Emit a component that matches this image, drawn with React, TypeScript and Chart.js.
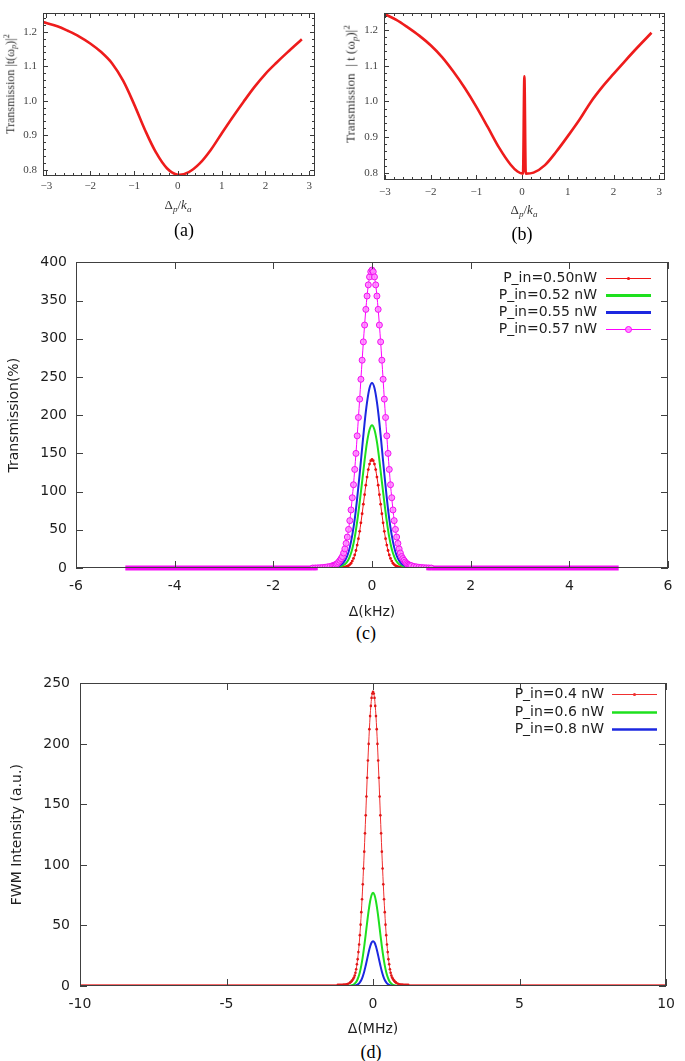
import React, { useEffect, useRef } from 'react';
import { Chart, registerables } from 'chart.js';
Chart.register(...registerables);

// ---------- Panel (a) ----------
const A_X = [-3.08, -2.75, -2.5, -2.25, -2, -1.75, -1.5, -1.25, -1, -0.75, -0.5, -0.25, 0, 0.25, 0.5, 0.75, 1, 1.25, 1.5, 1.75, 2, 2.25, 2.5, 2.83];
const A_T = [1.228, 1.216, 1.202, 1.186, 1.166, 1.141, 1.108, 1.058, 0.99, 0.915, 0.85, 0.804, 0.785, 0.793, 0.818, 0.857, 0.905, 0.952, 0.997, 1.04, 1.078, 1.11, 1.14, 1.178];

// ---------- Panel (b) ----------
const B_X = [-3.02, -2.75, -2.5, -2.25, -2, -1.75, -1.5, -1.25, -1, -0.75, -0.5, -0.25, -0.1, 0.02, 0.05, 0.08, 0.25, 0.5, 0.75, 1, 1.25, 1.5, 1.75, 2, 2.25, 2.5, 2.83];
const B_T = [1.245, 1.228, 1.207, 1.184, 1.157, 1.124, 1.083, 1.037, 0.985, 0.928, 0.87, 0.823, 0.804, 0.798, 1.07, 0.798, 0.801, 0.822, 0.86, 0.903, 0.948, 0.998, 1.04, 1.077, 1.113, 1.148, 1.192];

// ---------- Panel (c) : Δ (kHz) ----------
const C_LABELS = ['P_in=0.50nW', 'P_in=0.52 nW', 'P_in=0.55 nW', 'P_in=0.57 nW'];
// coarse grid (line-only curves)
const C_X = [-5, -1.2, -1.15, -1.1, -1.05, -1, -0.95, -0.9, -0.85, -0.8, -0.75, -0.7, -0.65, -0.6, -0.55, -0.5, -0.45, -0.4, -0.35, -0.3, -0.25, -0.2, -0.15, -0.1, -0.05, 0, 0.05, 0.1, 0.15, 0.2, 0.25, 0.3, 0.35, 0.4, 0.45, 0.5, 0.55, 0.6, 0.65, 0.7, 0.75, 0.8, 0.85, 0.9, 0.95, 1, 1.05, 1.1, 1.15, 1.2, 5];
// fine grid (curves drawn with point markers)
const C_XF = [-5, -1.2, -1.15, -1.1, -1.05, -1, -0.95, -0.9, -0.85, -0.8, -0.775, -0.75, -0.725, -0.7, -0.675, -0.65, -0.625, -0.6, -0.575, -0.55, -0.525, -0.5, -0.475, -0.45, -0.425, -0.4, -0.375, -0.35, -0.325, -0.3, -0.275, -0.25, -0.225, -0.2, -0.175, -0.15, -0.125, -0.1, -0.075, -0.05, -0.025, 0, 0.025, 0.05, 0.075, 0.1, 0.125, 0.15, 0.175, 0.2, 0.225, 0.25, 0.275, 0.3, 0.325, 0.35, 0.375, 0.4, 0.425, 0.45, 0.475, 0.5, 0.525, 0.55, 0.575, 0.6, 0.625, 0.65, 0.675, 0.7, 0.725, 0.75, 0.775, 0.8, 0.85, 0.9, 0.95, 1, 1.05, 1.1, 1.15, 1.2, 5];
const TRANS_050 = [0, 0, 0, 0, 0, 0, 0, 0, 0, 0, 0, 0.05, 0.1, 0.15, 0.2, 0.3, 0.45, 0.6, 0.9, 1.2, 1.7, 2.3, 3.2, 4.5, 6.2, 9, 12.5, 17, 22.9, 30, 38.4, 48, 59.1, 71, 83.6, 96, 108.4, 119, 128.8, 136, 140.5, 142, 140.5, 136, 128.8, 119, 108.4, 96, 83.6, 71, 59.1, 48, 38.4, 30, 22.9, 17, 12.5, 9, 6.2, 4.5, 3.2, 2.3, 1.7, 1.2, 0.9, 0.6, 0.45, 0.3, 0.2, 0.15, 0.1, 0.05, 0, 0, 0, 0, 0, 0, 0, 0, 0, 0, 0];
const TRANS_052 = [0, 0, 0, 0, 0, 0.05, 0.1, 0.15, 0.25, 0.4, 0.7, 1.1, 1.8, 3, 5, 8.5, 15, 25, 40, 61, 86, 113, 141, 165, 181, 187, 181, 165, 141, 113, 86, 61, 40, 25, 15, 8.5, 5, 3, 1.8, 1.1, 0.7, 0.4, 0.25, 0.15, 0.1, 0.05, 0, 0, 0, 0, 0];
const TRANS_055 = [0, 0, 0, 0.05, 0.1, 0.15, 0.25, 0.4, 0.6, 0.9, 1.4, 2.2, 3.5, 5.5, 9.5, 16, 27, 43, 64, 91.5, 123, 157, 190, 217, 235.5, 242, 235.5, 217, 190, 157, 123, 91.5, 64, 43, 27, 16, 9.5, 5.5, 3.5, 2.2, 1.4, 0.9, 0.6, 0.4, 0.25, 0.15, 0.1, 0.05, 0, 0, 0];
const TRANS_057 = [0, 0, 0.1, 0.2, 0.4, 0.7, 1, 1.5, 2, 3, 3.5, 4, 4.9, 6, 7.8, 10, 12.3, 15, 19.6, 25, 32.2, 40.5, 50.5, 62, 76, 92, 109, 129, 150, 173, 197, 221, 247, 272, 296, 318, 338.5, 356, 370.6, 381, 387.8, 390, 387.8, 381, 370.6, 356, 338.5, 318, 296, 272, 247, 221, 197, 173, 150, 129, 109, 92, 76, 62, 50.5, 40.5, 32.2, 25, 19.6, 15, 12.3, 10, 7.8, 6, 4.9, 4, 3.5, 3, 2, 1.5, 1, 0.7, 0.4, 0.2, 0.1, 0, 0];

// ---------- Panel (d) : Δ (MHz) ----------
const D_LABELS = ['P_in=0.4 nW', 'P_in=0.6 nW', 'P_in=0.8 nW'];
const D_X = [-10, -1.2, -1.15, -1.1, -1.05, -1, -0.95, -0.9, -0.85, -0.8, -0.75, -0.7, -0.65, -0.6, -0.55, -0.5, -0.45, -0.4, -0.35, -0.3, -0.25, -0.2, -0.15, -0.1, -0.05, 0, 0.05, 0.1, 0.15, 0.2, 0.25, 0.3, 0.35, 0.4, 0.45, 0.5, 0.55, 0.6, 0.65, 0.7, 0.75, 0.8, 0.85, 0.9, 0.95, 1, 1.05, 1.1, 1.15, 1.2, 10];
const D_XF = [-10, -1.2, -1.15, -1.1, -1.05, -1, -0.95, -0.9, -0.85, -0.8, -0.775, -0.75, -0.725, -0.7, -0.675, -0.65, -0.625, -0.6, -0.575, -0.55, -0.525, -0.5, -0.475, -0.45, -0.425, -0.4, -0.375, -0.35, -0.325, -0.3, -0.275, -0.25, -0.225, -0.2, -0.175, -0.15, -0.125, -0.1, -0.075, -0.05, -0.025, 0, 0.025, 0.05, 0.075, 0.1, 0.125, 0.15, 0.175, 0.2, 0.225, 0.25, 0.275, 0.3, 0.325, 0.35, 0.375, 0.4, 0.425, 0.45, 0.475, 0.5, 0.525, 0.55, 0.575, 0.6, 0.625, 0.65, 0.675, 0.7, 0.725, 0.75, 0.775, 0.8, 0.85, 0.9, 0.95, 1, 1.05, 1.1, 1.15, 1.2, 10];
const FWM_04 = [1, 1, 1, 1, 1.05, 1.15, 1.3, 1.5, 1.9, 2.5, 3, 3.5, 4.2, 5, 5.9, 7, 8.7, 11, 13.8, 18, 22.2, 28, 34.3, 42, 50.7, 61, 71.7, 84, 97.1, 111, 126.1, 141, 156.6, 172, 186.3, 200, 212.2, 223, 231.4, 238, 241.7, 243, 241.7, 238, 231.4, 223, 212.2, 200, 186.3, 172, 156.6, 141, 126.1, 111, 97.1, 84, 71.7, 61, 50.7, 42, 34.3, 28, 22.2, 18, 13.8, 11, 8.7, 7, 5.9, 5, 4.2, 3.5, 3, 2.5, 1.9, 1.5, 1.3, 1.15, 1.05, 1, 1, 1, 1];
const FWM_06 = [0, 0, 0, 0, 0, 0, 0, 0.05, 0.1, 0.25, 0.45, 0.8, 1.5, 2.6, 4.4, 7.3, 11.4, 17, 24.2, 32.9, 42.6, 52.8, 62.2, 70, 75.2, 77, 75.2, 70, 62.2, 52.8, 42.6, 32.9, 24.2, 17, 11.4, 7.3, 4.4, 2.6, 1.5, 0.8, 0.45, 0.25, 0.1, 0.05, 0, 0, 0, 0, 0, 0, 0];
const FWM_08 = [0, 0, 0, 0, 0, 0, 0, 0, 0, 0, 0, 0.1, 0.25, 0.5, 0.9, 1.6, 3, 5, 8, 12, 17, 22.4, 27.9, 32.6, 35.9, 37, 35.9, 32.6, 27.9, 22.4, 17, 12, 8, 5, 3, 1.6, 0.9, 0.5, 0.25, 0.1, 0, 0, 0, 0, 0, 0, 0, 0, 0, 0, 0];

const pts = (xs: number[], ys: number[]) => xs.map((x, i) => ({ x, y: ys[i] }));

// Frame with inward ticks on all four sides, drawn above the data
const framePlugin = {
  id: 'frame',
  afterDatasetsDraw(chart: any, _a: any, o: any) {
    if (!o || !o.show) return;
    const { ctx, chartArea: a, scales } = chart;
    const x = scales.x, y = scales.y;
    const L = Math.round(a.left), R = Math.round(a.right), T = Math.round(a.top), B = Math.round(a.bottom);
    ctx.save();
    ctx.strokeStyle = o.color;
    ctx.lineWidth = 1;
    ctx.beginPath();
    const xt = (v: number, len: number) => {
      const p = Math.round(x.getPixelForValue(v)) + 0.5;
      ctx.moveTo(p, B); ctx.lineTo(p, B - len);
      ctx.moveTo(p, T); ctx.lineTo(p, T + len);
    };
    const yt = (v: number, len: number) => {
      const p = Math.round(y.getPixelForValue(v)) + 0.5;
      ctx.moveTo(L, p); ctx.lineTo(L + len, p);
      ctx.moveTo(R, p); ctx.lineTo(R - len, p);
    };
    x.ticks.forEach((t: any) => xt(t.value, o.major));
    y.ticks.forEach((t: any) => yt(t.value, o.major));
    if (o.minorX) {
      for (let k = Math.ceil(x.min / o.minorX); k * o.minorX <= x.max; k++) {
        const v = k * o.minorX;
        if (!x.ticks.some((t: any) => Math.abs(t.value - v) < 1e-6)) xt(v, o.minor);
      }
    }
    if (o.minorY) {
      for (let k = Math.ceil(y.min / o.minorY); k * o.minorY <= y.max; k++) {
        const v = k * o.minorY;
        if (!y.ticks.some((t: any) => Math.abs(t.value - v) < 1e-6)) yt(v, o.minor);
      }
    }
    ctx.stroke();
    ctx.strokeRect(L + 0.5, T + 0.5, R - L - 1, B - T - 1);
    ctx.restore();
  },
};

// thick band where a marker-dense curve sits on the baseline (drawn from the dataset's own elements)
const bandPlugin = {
  id: 'band',
  beforeDatasetDraw(chart: any, args: any) {
    const ds = chart.data.datasets[args.index];
    if (!ds.band) return;
    const els = args.meta.data;
    const { ctx, chartArea: a } = chart;
    ctx.save();
    ctx.beginPath();
    ctx.rect(a.left, a.top - 5, a.width, a.height + 10);
    ctx.clip();
    ctx.strokeStyle = ds.bandColor;
    ctx.lineWidth = ds.band;
    ctx.lineCap = 'butt';
    ctx.beginPath();
    for (let i = 1; i < els.length; i++) {
      if (ds.data[i - 1].y < ds.bandBelow && ds.data[i].y < ds.bandBelow) {
        ctx.moveTo(els[i - 1].x, els[i - 1].y);
        ctx.lineTo(els[i].x, els[i].y);
      }
    }
    ctx.stroke();
    ctx.restore();
  },
};

// gnuplot-like key: right-aligned text, sample line to the right
const keyPlugin = {
  id: 'gkey',
  afterDatasetsDraw(chart: any, _a: any, o: any) {
    if (!o || !o.show) return;
    const { ctx } = chart;
    ctx.save();
    ctx.font = `${o.fontSize}px ${o.fontFamily}`;
    ctx.textAlign = 'right';
    ctx.textBaseline = 'middle';
    chart.data.datasets.forEach((ds: any, i: number) => {
      const yy = Math.round(o.top + i * o.rowGap) + 0.5;
      ctx.fillStyle = o.textColor;
      ctx.fillText(ds.label, o.textRight, yy);
      ctx.strokeStyle = ds.borderColor;
      ctx.lineWidth = ds.keyWidth;
      ctx.beginPath(); ctx.moveTo(o.x1, yy); ctx.lineTo(o.x2, yy); ctx.stroke();
      const mx = (o.x1 + o.x2) / 2;
      if (ds.keyMarker === 'dot') {
        ctx.fillStyle = ds.borderColor;
        ctx.beginPath(); ctx.arc(mx, yy, 1.6, 0, Math.PI * 2); ctx.fill();
      } else if (ds.keyMarker === 'circle') {
        ctx.fillStyle = ds.pointBackgroundColor;
        ctx.lineWidth = 1;
        ctx.beginPath(); ctx.arc(mx, yy, 3, 0, Math.PI * 2); ctx.fill(); ctx.stroke();
      }
    });
    ctx.restore();
  },
};

const mmaTick = (v: number) => (v < 0 ? '\u2212' + Math.abs(v) : String(v));

function mmaConfig(xs: number[], ys: number[], g: any) {
  return {
    type: 'line',
    data: {
      datasets: [{
        data: pts(xs, ys), borderColor: 'rgb(238,28,28)', borderWidth: 2.6, pointRadius: 0,
        cubicInterpolationMode: g.interp, tension: 0.35, fill: false,
      }],
    },
    options: {
      responsive: false, animation: false, devicePixelRatio: 1,
      layout: { padding: { top: g.padTop, right: g.padRight, left: 0, bottom: 0 } },
      plugins: {
        legend: { display: false }, tooltip: { enabled: false },
        frame: { show: true, color: '#3a3a3a', major: 5, minor: 3, minorX: 0.2, minorY: 0.02 },
      },
      scales: {
        x: {
          type: 'linear', min: g.xMin, max: g.xMax,
          afterFit: (s: any) => { s.height = g.xHeight; },
          grid: { display: false, drawTicks: false }, border: { display: false },
          ticks: {
            stepSize: 1, includeBounds: false, padding: g.xPad, maxRotation: 0, autoSkip: false,
            font: { family: 'Liberation Serif', size: 11 }, color: '#444', callback: (v: any) => mmaTick(Number(v)),
          },
        },
        y: {
          type: 'linear', min: g.yMin, max: g.yMax,
          afterFit: (s: any) => { s.width = g.yWidth; },
          grid: { display: false, drawTicks: false }, border: { display: false },
          ticks: {
            stepSize: 0.1, includeBounds: false, padding: g.yPad, autoSkip: false,
            font: { family: 'Liberation Serif', size: 11 }, color: '#444', callback: (v: any) => Number(v).toFixed(1),
          },
        },
      },
    },
    plugins: [framePlugin],
  };
}

function gnuConfig(datasets: any[], g: any) {
  return {
    type: 'line',
    data: { datasets },
    options: {
      responsive: false, animation: false, devicePixelRatio: 1,
      layout: { padding: { top: g.padTop, right: g.padRight, left: 0, bottom: 0 } },
      plugins: {
        legend: { display: false }, tooltip: { enabled: false },
        frame: { show: true, color: '#404040', major: 7, minor: 0 },
        gkey: { show: true, fontSize: 14, fontFamily: 'DejaVu Sans', textColor: '#1e1e1e', ...g.key },
      },
      scales: {
        x: {
          type: 'linear', min: g.xMin, max: g.xMax,
          afterFit: (s: any) => { s.height = g.xHeight; },
          grid: { display: false, drawTicks: false }, border: { display: false },
          title: { display: true, text: g.xTitle, font: { family: 'DejaVu Sans', size: 14 }, color: '#1e1e1e', padding: { top: 0, bottom: 0 } },
          ticks: {
            stepSize: g.xStep, padding: g.xPad, maxRotation: 0, autoSkip: false,
            font: { family: 'DejaVu Sans', size: 14 }, color: '#1e1e1e', callback: (v: any) => String(v),
          },
        },
        y: {
          type: 'linear', min: g.yMin, max: g.yMax,
          afterFit: (s: any) => { s.width = g.yWidth; },
          grid: { display: false, drawTicks: false }, border: { display: false },
          title: { display: true, text: g.yTitle, font: { family: 'DejaVu Sans', size: 14 }, color: '#1e1e1e', padding: { top: g.yTitlePad, bottom: 0 } },
          ticks: {
            stepSize: g.yStep, padding: g.yPad, autoSkip: false,
            font: { family: 'DejaVu Sans', size: 14 }, color: '#1e1e1e', callback: (v: any) => String(v),
          },
        },
      },
    },
    plugins: [bandPlugin, framePlugin, keyPlugin],
  };
}

const inCore = (lim: number) => (c: any) => (c.raw && Math.abs(c.raw.x) <= lim);

function lineSet(label: string, xs: number[], ys: number[], color: string, width: number, order: number, extra: any = {}) {
  return {
    label, data: pts(xs, ys), borderColor: color, backgroundColor: color, borderWidth: width,
    pointRadius: 0, cubicInterpolationMode: 'monotone', fill: false, order, keyWidth: width, ...extra,
  };
}

const cDatasets = () => [
  lineSet(C_LABELS[0], C_XF, TRANS_050, '#f01414', 1, 3, {
    keyMarker: 'dot', pointRadius: (c: any) => (inCore(1.25)(c) ? 1.4 : 0), pointBorderWidth: 0, pointBackgroundColor: '#e81010',
  }),
  lineSet(C_LABELS[1], C_X, TRANS_052, '#1ee01e', 2, 2, { keyWidth: 3 }),
  lineSet(C_LABELS[2], C_X, TRANS_055, '#1c28e0', 2, 1, { keyWidth: 3 }),
  lineSet(C_LABELS[3], C_XF, TRANS_057, '#ff00ff', 1, 0, {
    keyMarker: 'circle', pointRadius: (c: any) => (inCore(1.25)(c) ? 3 : 0), pointBorderWidth: 1,
    pointBorderColor: '#f010f0', pointBackgroundColor: 'rgba(255,130,255,0.85)',
    band: 5, bandBelow: 0.3, bandColor: '#f70cf7',
  }),
];

const dDatasets = () => [
  lineSet(D_LABELS[0], D_XF, FWM_04, '#f03030', 1, 2, {
    keyMarker: 'dot', pointRadius: (c: any) => (inCore(1.25)(c) ? 1.3 : 0), pointBorderWidth: 0, pointBackgroundColor: '#e01818',
  }),
  lineSet(D_LABELS[1], D_X, FWM_06, '#1ee01e', 2, 1, { keyWidth: 2.5 }),
  lineSet(D_LABELS[2], D_X, FWM_08, '#1c28e0', 2, 0, { keyWidth: 2.5 }),
];

function ChartCanvas({ left, top, width, height, make }: any) {
  const ref = useRef<HTMLCanvasElement>(null);
  useEffect(() => {
    const chart = new Chart(ref.current as HTMLCanvasElement, make());
    return () => chart.destroy();
  }, []);
  return <canvas ref={ref} width={width} height={height} style={{ position: 'absolute', left, top, width, height }} />;
}

function Txt({ x, y, size, family, rotate, color, children }: any) {
  return (
    <div style={{
      position: 'absolute', left: x, top: y, transform: `translate(-50%, -50%)${rotate ? ' rotate(-90deg)' : ''}`,
      fontFamily: family, fontSize: size, color: color || '#000', whiteSpace: 'nowrap', lineHeight: 1,
    }}>{children}</div>
  );
}

const sub: any = { fontSize: '70%', verticalAlign: '-0.3em' };
const sup: any = { fontSize: '70%', verticalAlign: '0.55em' };

export default function App() {
  return (
    <div style={{ position: 'absolute', left: 0, top: 0, width: 685, height: 1061, background: '#fff', overflow: 'hidden' }}>
      <ChartCanvas left={0} top={0} width={340} height={200} make={() => mmaConfig(A_X, A_T, {
        interp: 'default', xMin: -3.078, xMax: 3.13, yMin: 0.7815, yMax: 1.2555, padTop: 5, padRight: 25, yWidth: 43, xHeight: 24, xPad: 4, yPad: 6,
      })} />
      <ChartCanvas left={340} top={0} width={345} height={205} make={() => mmaConfig(B_X, B_T, {
        interp: 'monotone', xMin: -3.02, xMax: 3.125, yMin: 0.7803, yMax: 1.2484, padTop: 6, padRight: 20, yWidth: 44, xHeight: 25, xPad: 6, yPad: 6,
      })} />
      <ChartCanvas left={0} top={245} width={685} height={376} make={() => gnuConfig(cDatasets(), {
        xMin: -6, xMax: 6, xStep: 2, yMin: 0, yMax: 400, yStep: 50, padTop: 17, padRight: 17, yWidth: 76, xHeight: 53,
        xPad: 10, yPad: 9, yTitlePad: 5.6, xTitle: '\u0394(kHz)', yTitle: 'Transmission(%)',
        key: { top: 33, rowGap: 17, textRight: 597, x1: 606, x2: 651 },
      })} />
      <ChartCanvas left={0} top={665} width={685} height={373} make={() => gnuConfig(dDatasets(), {
        xMin: -10, xMax: 10, xStep: 5, yMin: 0, yMax: 250, yStep: 50, padTop: 13, padRight: 10, yWidth: 80, xHeight: 52,
        xPad: 10, yPad: 10, yTitlePad: 8.6, xTitle: '\u0394(MHz)', yTitle: 'FWM Intensity (a.u.)',
        key: { top: 29, rowGap: 17.6, textRight: 604, x1: 612, x2: 657 },
      })} />

      <Txt x={11} y={84} size={12} family="Liberation Serif" color="#333" rotate>
        Transmission |t(ω<span style={sub}><i>p</i></span>)|<span style={sup}>2</span>
      </Txt>
      <Txt x={178} y={206} size={13} family="Liberation Serif" color="#333">
        Δ<span style={sub}><i>p</i></span>/<i>k</i><span style={sub}><i>a</i></span>
      </Txt>
      <Txt x={184} y={230} size={18} family="Liberation Serif">(a)</Txt>

      <Txt x={351} y={84} size={13} family="Liberation Serif" color="#333" rotate>
        Transmission&nbsp; | t&nbsp;(ω<span style={sub}><i>p</i></span>)|<span style={sup}>2</span>
      </Txt>
      <Txt x={524} y={211} size={13} family="Liberation Serif" color="#333">
        Δ<span style={sub}><i>p</i></span>/<i>k</i><span style={sub}><i>a</i></span>
      </Txt>
      <Txt x={522} y={234} size={18} family="Liberation Serif">(b)</Txt>

      <Txt x={366} y={633} size={18} family="Liberation Serif">(c)</Txt>
      <Txt x={371} y={1052} size={18} family="Liberation Serif">(d)</Txt>
    </div>
  );
}
